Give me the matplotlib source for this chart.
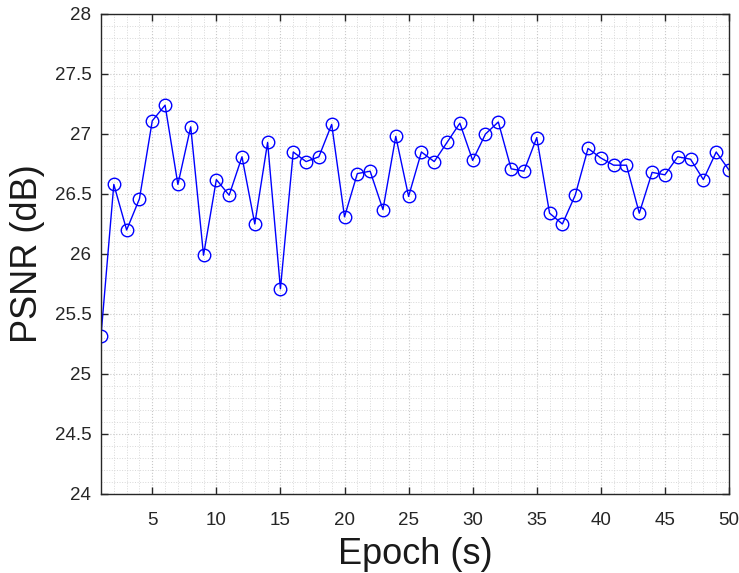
import matplotlib
matplotlib.use("Agg")
import matplotlib.pyplot as plt
from matplotlib.ticker import MultipleLocator

plt.rcParams['font.family'] = ['Liberation Sans', 'DejaVu Sans']

# Data
epochs = list(range(1, 51))
psnr = [25.32, 26.58, 26.20, 26.46, 27.11, 27.24, 26.58, 27.06, 25.99, 26.62,
        26.49, 26.81, 26.25, 26.93, 25.71, 26.85, 26.77, 26.81, 27.08, 26.31,
        26.67, 26.69, 26.37, 26.98, 26.48, 26.85, 26.77, 26.93, 27.09, 26.78,
        27.00, 27.10, 26.71, 26.69, 26.97, 26.34, 26.25, 26.49, 26.88, 26.80,
        26.74, 26.74, 26.34, 26.68, 26.66, 26.81, 26.79, 26.62, 26.85, 26.70]
x_ticks = [5, 10, 15, 20, 25, 30, 35, 40, 45, 50]
y_ticks = [24, 24.5, 25, 25.5, 26, 26.5, 27, 27.5, 28]
y_labels = ['24', '24.5', '25', '25.5', '26', '26.5', '27', '27.5', '28']

fig = plt.figure(figsize=(7.39, 5.73), dpi=100)
ax = fig.add_axes([101 / 739, 1 - 494 / 573, 628 / 739, 480 / 573])

ax.plot(epochs, psnr, color='#0000ff', linewidth=1.0, marker='o',
        markersize=9, markerfacecolor='none', markeredgecolor='#0000ff',
        markeredgewidth=1.0)

ax.set_xlim(1, 50)
ax.set_ylim(24, 28)
ax.set_xticks(x_ticks)
ax.set_yticks(y_ticks)
ax.set_yticklabels(y_labels)
ax.xaxis.set_minor_locator(MultipleLocator(1))
ax.yaxis.set_minor_locator(MultipleLocator(0.1))

# MATLAB-like box and faint dotted grid
ax.grid(True, which='major', linestyle=':', color='#c8c8c8', linewidth=0.8)
ax.grid(True, which='minor', linestyle=':', color='#d8d8d8', linewidth=0.7)
ax.set_axisbelow(True)
ax.tick_params(which='major', direction='in', length=5, width=1.0,
               top=True, right=True, labelsize=13.5, colors='#262626')
ax.tick_params(axis='x', which='major', pad=13)
ax.tick_params(axis='y', which='major', pad=7)
ax.tick_params(which='minor', length=0, top=True, right=True)
for s in ax.spines.values():
    s.set_color('#262626')
    s.set_linewidth(1.0)

ax.set_xlabel("Epoch (s)", fontsize=26, color='#1a1a1a', labelpad=6)
ax.set_ylabel("PSNR (dB)", fontsize=26, color='#1a1a1a', labelpad=7)

fig.savefig("out.png", dpi=100)
